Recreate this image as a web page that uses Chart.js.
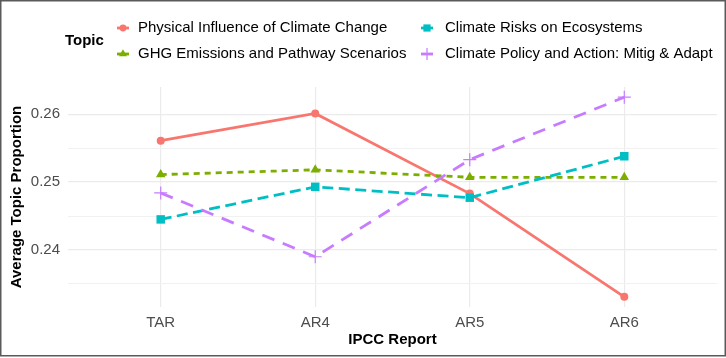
<!DOCTYPE html>
<html>
<head>
<meta charset="utf-8">
<script src="https://cdn.jsdelivr.net/npm/chart.js@4/dist/chart.umd.min.js"></script>
<style>
  html, body { margin: 0; padding: 0; background: #fff; }
  #wrap { width: 726px; height: 358px; position: relative; }
</style>
</head>
<body>
<div id="wrap"><canvas id="c" width="726" height="358"></canvas></div>
<script>
// ---- data ----
const categories = ['TAR', 'AR4', 'AR5', 'AR6'];
const seriesNames = [
  'Physical Influence of Climate Change',
  'GHG Emissions and Pathway Scenarios',
  'Climate Risks on Ecosystems',
  'Climate Policy and Action: Mitig & Adapt'
];
const physicalInfluence = [0.2561, 0.2601, 0.2483, 0.2331];
const ghgEmissions      = [0.2511, 0.2518, 0.2507, 0.2507];
const climateRisks      = [0.2445, 0.2493, 0.2477, 0.2538];
const climatePolicy     = [0.2484, 0.2390, 0.2533, 0.2625];
const yMajorTicks = [0.24, 0.25, 0.26];
const yMinorTicks = [0.235, 0.245, 0.255];
const yTickLabels = ['0.24', '0.25', '0.26'];

// ---- styles ----
const FONT = "'Liberation Sans', Arial, sans-serif";
const colors = ['#F8766D', '#7CAE00', '#00BFC4', '#C77CFF'];
const dashes = [[], [6, 5], [11, 5.5], [13, 9]];
const shapes = ['circle', 'triangle', 'rect', 'cross'];
const radii = [4, 5.5, 6, 6.5];
const allSeries = [physicalInfluence, ghgEmissions, climateRisks, climatePolicy];

const datasets = allSeries.map((vals, i) => ({
  label: seriesNames[i],
  data: vals.map((v, j) => ({ x: j, y: v })),
  borderColor: colors[i],
  backgroundColor: colors[i],
  borderWidth: 2.8,
  borderDash: dashes[i],
  pointStyle: shapes[i],
  pointRadius: radii[i],
  pointBorderWidth: shapes[i] === 'cross' ? 1.2 : 0,
  pointBorderColor: colors[i],
  pointBackgroundColor: colors[i],
  tension: 0,
  order: 3 - i
}));

function drawShape(ctx, shape, x, y, r, color) {
  ctx.save();
  ctx.fillStyle = color; ctx.strokeStyle = color;
  ctx.beginPath();
  if (shape === 'circle') {
    ctx.arc(x, y, r, 0, Math.PI * 2); ctx.fill();
  } else if (shape === 'triangle') {
    let a = 0;
    ctx.moveTo(x + Math.sin(a) * r, y - Math.cos(a) * r);
    a += 2 * Math.PI / 3; ctx.lineTo(x + Math.sin(a) * r, y - Math.cos(a) * r);
    a += 2 * Math.PI / 3; ctx.lineTo(x + Math.sin(a) * r, y - Math.cos(a) * r);
    ctx.closePath(); ctx.fill();
  } else if (shape === 'rect') {
    const s = r * Math.SQRT1_2;
    ctx.rect(x - s, y - s, 2 * s, 2 * s); ctx.fill();
  } else if (shape === 'cross') {
    ctx.lineWidth = 1.2;
    ctx.moveTo(x - r, y); ctx.lineTo(x + r, y);
    ctx.moveTo(x, y - r); ctx.lineTo(x, y + r); ctx.stroke();
  }
  ctx.restore();
}

const legendPlugin = {
  id: 'ggLegend',
  afterDraw(chart) {
    const ctx = chart.ctx;
    ctx.save();
    ctx.fillStyle = '#000';
    ctx.textBaseline = 'middle';
    ctx.font = 'bold 15px ' + FONT;
    ctx.fillText('Topic', 65, 41);
    // column-major layout like ggplot: col1 = series 0,1 ; col2 = series 2,3
    const colMarkX = [123, 427];
    const colTextX = [138, 445];
    const rowY = [28, 54];
    ctx.font = '15px ' + FONT;
    for (let i = 0; i < 4; i++) {
      const col = Math.floor(i / 2), row = i % 2;
      const mx = colMarkX[col], my = rowY[row];
      ctx.save();
      ctx.strokeStyle = colors[i]; ctx.lineWidth = 2.8;
      ctx.beginPath(); ctx.moveTo(mx - 6, my); ctx.lineTo(mx + 6, my); ctx.stroke();
      ctx.restore();
      drawShape(ctx, shapes[i], mx, my, i === 3 ? 6 : radii[i] * 0.85, colors[i]);
      ctx.fillStyle = '#000';
      ctx.fillText(seriesNames[i], colTextX[col], my);
    }
    // frame
    ctx.strokeStyle = '#5a5a5a';
    ctx.lineWidth = 1.5;
    ctx.strokeRect(0.75, 0.75, 724.5, 355);
    ctx.restore();
  }
};

new Chart(document.getElementById('c'), {
  type: 'line',
  data: { datasets },
  plugins: [legendPlugin],
  options: {
    responsive: false,
    animation: false,
    layout: { padding: { left: 0, top: 87, right: 9, bottom: 0 } },
    plugins: { legend: { display: false }, tooltip: { enabled: false } },
    scales: {
      x: {
        type: 'linear',
        min: -0.6, max: categories.length - 1 + 0.6,
        afterBuildTicks: (s) => { s.ticks = categories.map((c, i) => ({ value: i })); },
        afterFit: (s) => { s.height = 51; },
        ticks: {
          callback: (v) => categories[v] !== undefined ? categories[v] : '',
          color: '#4D4D4D', font: { family: FONT, size: 15 }, padding: 7,
          autoSkip: false, maxRotation: 0
        },
        grid: { color: '#EBEBEB', lineWidth: 1.2, drawTicks: false },
        border: { display: false },
        title: { display: true, text: 'IPCC Report', color: '#000',
                 font: { family: FONT, size: 15, weight: 'bold' }, padding: { top: 0, bottom: 9 } }
      },
      y: {
        type: 'linear',
        min: 0.2316, max: 0.2640,
        afterBuildTicks: (s) => {
          s.ticks = yMinorTicks.concat(yMajorTicks).sort((a, b) => a - b).map(v => ({ value: v }));
        },
        afterFit: (s) => { s.width = 68; },
        ticks: {
          callback: (v) => {
            const k = yMajorTicks.findIndex(m => Math.abs(m - v) < 1e-9);
            return k >= 0 ? yTickLabels[k] : '';
          },
          color: '#4D4D4D', font: { family: FONT, size: 15 }, padding: 8
        },
        grid: {
          drawTicks: false,
          color: (c) => yMajorTicks.some(m => Math.abs(m - c.tick.value) < 1e-9) ? '#EBEBEB' : '#F1F1F1',
          lineWidth: (c) => yMajorTicks.some(m => Math.abs(m - c.tick.value) < 1e-9) ? 1.2 : 1
        },
        border: { display: false },
        title: { display: true, text: 'Average Topic Proportion', color: '#000',
                 font: { family: FONT, size: 15, weight: 'bold' }, padding: { top: 8, bottom: 0 } }
      }
    }
  }
});
</script>
</body>
</html>
